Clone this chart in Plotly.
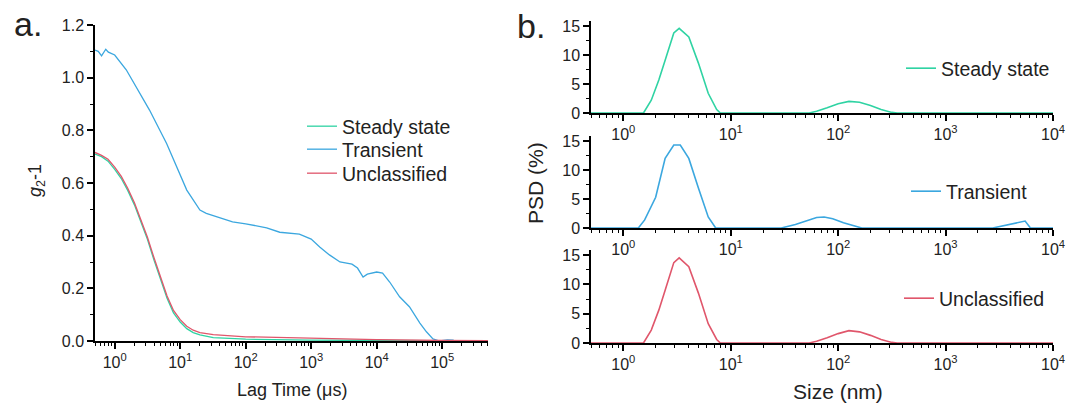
import plotly.graph_objects as go

# ---- panel a: correlation functions ----
lag = [0.5, 0.63, 0.79, 1.0, 1.26, 1.58, 2.0, 2.5, 3.16, 3.98, 5.0, 6.3, 7.9, 10,
       12.6, 15.8, 20, 32, 100, 316, 1000, 1e4, 1e5, 5e5]
g2_steady = [0.71, 0.70, 0.683, 0.652, 0.617, 0.572, 0.517, 0.456, 0.386, 0.307, 0.232,
             0.162, 0.107, 0.072, 0.047, 0.032, 0.023, 0.013, 0.007, 0.004, 0.003, 0.002,
             0.001, 0.0]
g2_unclass = [0.716, 0.705, 0.69, 0.66, 0.625, 0.58, 0.525, 0.464, 0.394, 0.316, 0.241,
              0.171, 0.116, 0.081, 0.056, 0.041, 0.032, 0.024, 0.016, 0.013, 0.011, 0.005,
              0.002, 0.001]

lag_trans = [0.5, 0.56, 0.63, 0.68, 0.73, 0.8, 1.0, 1.5, 2.2, 3.4, 6.2, 12.6, 20, 25, 63,
             100, 209, 331, 660, 1000, 1350, 1900, 2750, 4200, 5100, 6200, 7200, 10000,
             12300, 15800, 22400, 31600, 45700, 57500, 72400, 91000, 120000, 150000]
g2_trans = [1.105, 1.10, 1.083, 1.095, 1.108, 1.097, 1.086, 1.03, 0.96, 0.877, 0.75, 0.573,
            0.497, 0.485, 0.452, 0.445, 0.43, 0.413, 0.406, 0.387, 0.357, 0.327, 0.30,
            0.292, 0.277, 0.243, 0.254, 0.262, 0.258, 0.224, 0.168, 0.13, 0.068, 0.035,
            0.008, 0.0, 0.004, 0.003]

# ---- panel b: size distributions ----
size_steady = [0.5, 1.54, 1.82, 2.14, 2.45, 2.95, 3.31, 4.07, 5.0, 6.17, 7.4, 8.0, 53.7, 63,
               79, 100, 126, 158, 200, 251, 316, 355, 10000]
psd_steady = [0, 0, 2.2, 5.7, 9.1, 13.8, 14.6, 13.1, 8.6, 3.4, 0.6, 0, 0, 0.3, 0.9, 1.6,
              2.0, 1.85, 1.3, 0.6, 0.1, 0, 0]

size_trans = [0.5, 1.38, 1.58, 2.0, 2.45, 2.95, 3.39, 4.07, 5.0, 6.17, 7.24, 29.5, 40, 50,
              63, 74, 89, 112, 141, 166, 2750, 4365, 5500, 6170, 10000]
psd_trans = [0, 0, 1.4, 5.3, 12.0, 14.3, 14.3, 12.0, 6.9, 1.9, 0, 0, 0.6, 1.2, 1.8, 1.9,
             1.6, 0.9, 0.3, 0, 0, 0.8, 1.2, 0, 0]

size_unclass = [0.5, 1.54, 1.82, 2.14, 2.45, 2.95, 3.31, 4.07, 5.0, 6.17, 7.4, 8.0, 53.7, 63,
                79, 100, 126, 158, 200, 251, 316, 355, 10000]
psd_unclass = [0, 0, 2.2, 5.6, 9.0, 13.7, 14.5, 13.0, 8.5, 3.3, 0.6, 0, 0, 0.3, 0.9, 1.6,
               2.1, 1.9, 1.3, 0.6, 0.1, 0, 0]

decades_a = [1, 10, 100, 1e3, 1e4, 1e5]
labels_a = ['10<sup>0</sup>', '10<sup>1</sup>', '10<sup>2</sup>', '10<sup>3</sup>',
            '10<sup>4</sup>', '10<sup>5</sup>']
decades_b = [1, 10, 100, 1e3, 1e4]
labels_b = labels_a[:5]

GREEN = '#2fd3a3'
BLUE = '#3ba7df'
RED = '#e0566b'
FONT = 'Liberation Sans, Arial, sans-serif'
W, H = 1067, 406


def px_x(p):
    # screen pixel -> paper fraction
    return p / W


def px_y(p):
    return 1 - p / H


fig = go.Figure()

fig.add_trace(go.Scatter(x=lag, y=g2_steady, name='Steady state', mode='lines',
                         line=dict(color=GREEN, width=1.3), xaxis='x', yaxis='y',
                         legend='legend'))
fig.add_trace(go.Scatter(x=lag_trans, y=g2_trans, name='Transient', mode='lines',
                         line=dict(color=BLUE, width=1.3), xaxis='x', yaxis='y',
                         legend='legend2'))
fig.add_trace(go.Scatter(x=lag, y=g2_unclass, name='Unclassified', mode='lines',
                         line=dict(color=RED, width=1.3), xaxis='x', yaxis='y',
                         legend='legend3'))

fig.add_trace(go.Scatter(x=size_steady, y=psd_steady, name='Steady state', mode='lines',
                         line=dict(color=GREEN, width=1.6), xaxis='x2', yaxis='y2',
                         legend='legend4'))
fig.add_trace(go.Scatter(x=size_trans, y=psd_trans, name='Transient', mode='lines',
                         line=dict(color=BLUE, width=1.6), xaxis='x3', yaxis='y3',
                         legend='legend5'))
fig.add_trace(go.Scatter(x=size_unclass, y=psd_unclass, name='Unclassified', mode='lines',
                         line=dict(color=RED, width=1.6), xaxis='x4', yaxis='y4',
                         legend='legend6'))

axis_common = dict(showline=True, linecolor='black', linewidth=1.5, ticks='outside',
                   tickwidth=1.5, ticklen=6, tickcolor='black', showgrid=False,
                   zeroline=False, automargin=False, ticklabeloverflow='allow',
                   tickfont=dict(size=16, color='#222'))
minor_log = dict(ticks='outside', ticklen=3, tickwidth=1.2, tickcolor='black',
                 dtick='D1', tickmode='linear')

layout = dict(width=W, height=H, margin=dict(l=0, r=0, t=0, b=0),
              template='none', plot_bgcolor='white', paper_bgcolor='white',
              showlegend=True, font=dict(family=FONT, color='#222'))

layout['xaxis'] = dict(type='log', range=[-0.301, 5.7], tickvals=decades_a,
                       ticktext=labels_a, domain=[px_x(95), px_x(488)], anchor='y',
                       minor=minor_log, **axis_common)
layout['yaxis'] = dict(range=[0, 1.2], dtick=0.2, tickformat='.1f',
                       domain=[px_y(341), px_y(25)], anchor='x',
                       minor=dict(ticks='outside', ticklen=3, tickwidth=1.2,
                                  tickcolor='black', dtick=0.1),
                       **axis_common)

tops = {2: (113, 21), 3: (228, 136), 4: (343, 250)}
for i in (2, 3, 4):
    bottom, top = tops[i]
    layout[f'xaxis{i}'] = dict(type='log', range=[-0.301, 4], tickvals=decades_b,
                               ticktext=labels_b, domain=[px_x(591), px_x(1053)],
                               anchor=f'y{i}', minor=minor_log, **axis_common)
    layout[f'yaxis{i}'] = dict(range=[0, 15 * (bottom - top) / (bottom - top - 5)],
                               tickvals=[0, 5, 10, 15], domain=[px_y(bottom), px_y(top)],
                               anchor=f'x{i}',
                               minor=dict(ticks='outside', ticklen=3, tickwidth=1.2,
                                          tickcolor='black', dtick=2.5),
                               **axis_common)

# one legend per entry: (text start x, row centre y) in screen pixels
legend_spots = {'legend': (343, 125), 'legend2': (343, 148), 'legend3': (343, 172),
                'legend4': (942, 67), 'legend5': (947, 190), 'legend6': (940, 297)}
for key, (tx, cy) in legend_spots.items():
    layout[key] = dict(x=px_x(tx - 41), y=px_y(cy - 18), xanchor='left', yanchor='top',
                       font=dict(size=19.5), bgcolor='rgba(0,0,0,0)')

fig.update_layout(**layout)

annots = [
    dict(text='a.', x=px_x(28), y=px_y(24), font=dict(size=34)),
    dict(text='b.', x=px_x(531), y=px_y(26), font=dict(size=34)),
    dict(text='<i>g</i><sub>2</sub>-1', x=px_x(37), y=px_y(181), textangle=-90,
         font=dict(size=18)),
    dict(text='Lag Time (\u03bcs)', x=px_x(292), y=px_y(390), font=dict(size=18)),
    dict(text='PSD (%)', x=px_x(535), y=px_y(183), textangle=-90, font=dict(size=21)),
    dict(text='Size (nm)', x=px_x(838), y=px_y(391), font=dict(size=21)),
]
for a in annots:
    fig.add_annotation(xref='paper', yref='paper', showarrow=False,
                       xanchor='center', yanchor='middle', **a)

# drop the default 8px page margin so the figure fills the window exactly
fig.write_html('out.html', config={'displayModeBar': False},
               post_script="document.body.style.margin = '0';")
